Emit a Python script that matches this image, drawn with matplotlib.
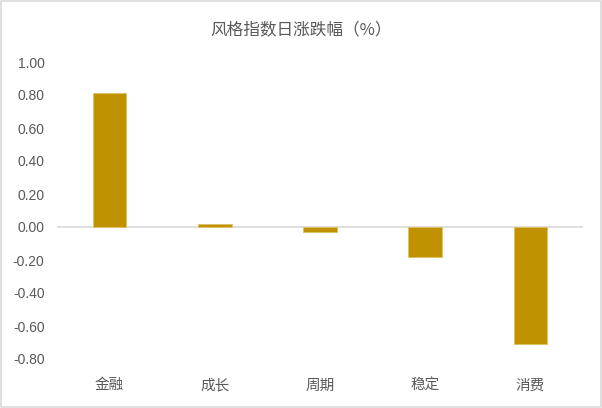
import numpy as np
import matplotlib.pyplot as plt
from matplotlib.patches import Rectangle

plt.rcParams['font.family'] = ['Noto Sans CJK SC', 'DejaVu Sans']

categories = ['金融', '成长', '周期', '稳定', '消费']
values = [0.81, 0.02, -0.03, -0.18, -0.71]
yticks = [-0.80, -0.60, -0.40, -0.20, 0.00, 0.20, 0.40, 0.60, 0.80, 1.00]

bar_color = '#C09100'
text_color = '#595959'

fig = plt.figure(figsize=(6.02, 4.08), dpi=100)
ax = fig.add_axes([57 / 602, 1 - 359 / 408, 526 / 602, 297 / 408])

x = np.arange(len(categories))
ax.bar(x, values, width=0.32, color=bar_color, edgecolor='#E0C060', linewidth=0.6, zorder=3)
ax.axhline(0, color='#D9D9D9', linewidth=1.2, zorder=2)

ax.set_xlim(-0.5, len(categories) - 0.5)
ax.set_ylim(-0.8, 1.0)
ax.set_yticks(yticks)
ax.set_yticklabels(['%.2f' % v for v in yticks], family=['Liberation Sans', 'DejaVu Sans'])
ax.set_xticks(x)
ax.set_xticklabels(categories)
ax.tick_params(axis='y', length=0, labelsize=10, colors=text_color, pad=9)
ax.tick_params(axis='x', length=0, labelsize=10.5, colors=text_color, pad=14)
for s in ax.spines.values():
    s.set_visible(False)

fig.text(0.5, 1 - 30 / 408, '风格指数日涨跌幅（%）', ha='center', va='center',
         fontsize=12, color=text_color)

fig.patches.append(Rectangle((0.002, 0.003), 0.996, 0.994, transform=fig.transFigure,
                             fill=False, edgecolor='#D9D9D9', linewidth=1.2))

fig.savefig('out.png', dpi=100)
